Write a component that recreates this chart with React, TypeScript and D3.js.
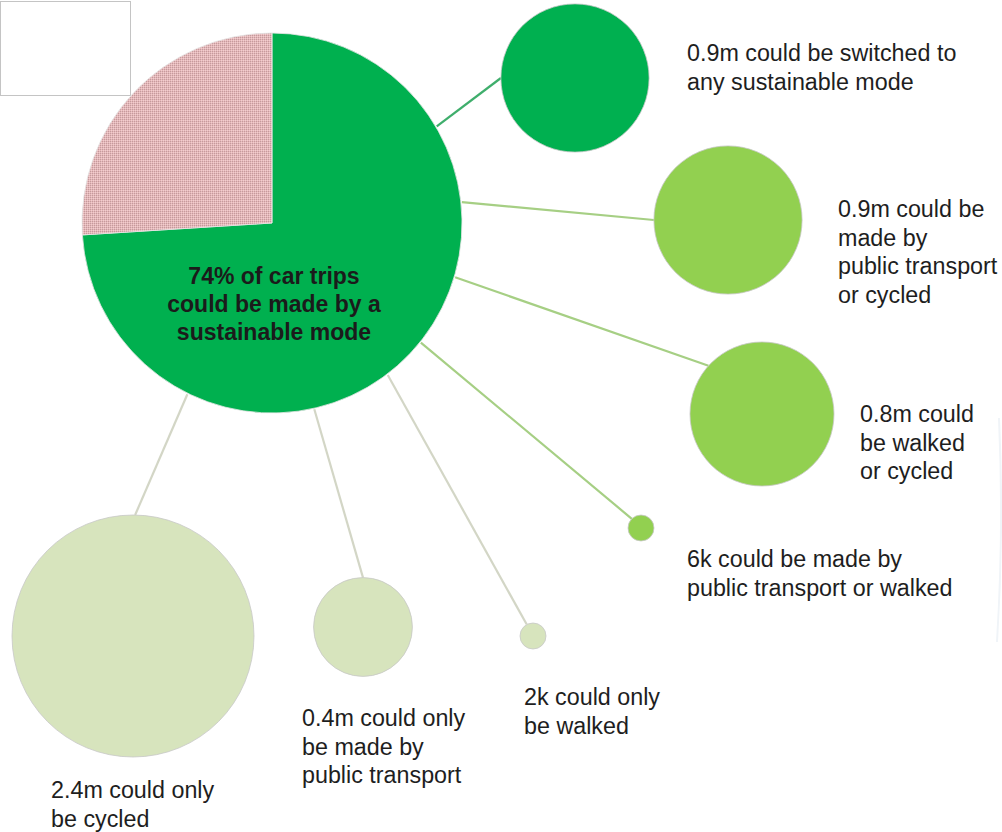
import React from "react";
import * as d3 from "d3";

// ---- data ----
const pieCategories = ["Could be made by a sustainable mode", "Could not"];
const pieValues = [74, 26];
const centerText = ["74% of car trips", "could be made by a", "sustainable mode"];

const bubbleKeys = ["any", "ptCycle", "walkCycle", "ptWalk", "walkOnly", "ptOnly", "cycleOnly"];
const bubbleValues = [0.9, 0.9, 0.85, 0.006, 0.002, 0.4, 2.4]; // millions of trips
const bubbleLabels = [
  ["0.9m could be switched to", "any sustainable mode"],
  ["0.9m could be", "made by", "public transport", "or cycled"],
  ["0.8m could", "be walked", "or cycled"],
  ["6k could be made by", "public transport or walked"],
  ["2k could only", "be walked"],
  ["0.4m could only", "be made by", "public transport"],
  ["2.4m could only", "be cycled"],
];
const bubbleTier = [0, 1, 1, 1, 2, 2, 2]; // number of alternative modes: any / two / one

// ---- layout & style ----
const W = 1002, H = 832;
const pieCenter = { x: 272, y: 223 };
const pieR = 190;
const bubbleCenters = [
  { x: 575, y: 78 },
  { x: 728, y: 220 },
  { x: 762, y: 414 },
  { x: 641, y: 528 },
  { x: 533, y: 636 },
  { x: 363, y: 627 },
  { x: 133, y: 636 },
];
const labelPos = [
  { x: 687, y: 61 },
  { x: 838, y: 217 },
  { x: 860, y: 422 },
  { x: 687, y: 567 },
  { x: 524, y: 705 },
  { x: 302, y: 726 },
  { x: 51, y: 798 },
];
const connectorPieAngle = [-30.4, -6.3, 16.5, 38.8, 52.7, 77.2, 116.3];
const connectorEndAngle = [180, 180, -138, -135, -118.6, -90, -89];
const tierFill = ["#00b050", "#92d050", "#d7e4bd"];
const tierLine = ["#3fae6c", "#a6cf84", "#d3d6c6"];
const pieColors = ["#00b04f", "url(#pinkHatch)"];
const lineH = 28.5;

export default function App() {
  const rScale = d3.scaleSqrt().domain([0, d3.max(bubbleValues) as number]).range([0, 121]);
  const radius = (v: number) => Math.max(13, rScale(v));

  const pie = d3.pie<number>().sort(null)(pieValues);
  const arc = d3.arc<d3.PieArcDatum<number>>().innerRadius(0).outerRadius(pieR);

  const rad = (deg: number) => (deg * Math.PI) / 180;

  return (
    <svg
      width={W}
      height={H}
      style={{ position: "absolute", left: 0, top: 0, background: "#fff" }}
      fontFamily="'Liberation Sans', Arial, sans-serif"
    >
      <defs>
        <pattern id="pinkHatch" width="2" height="2" patternUnits="userSpaceOnUse">
          <rect width="2" height="2" fill="#e6b6b8" />
          <rect x="0" y="0" width="1" height="1" fill="#c29c9e" />
          <rect x="1" y="1" width="1" height="1" fill="#f0cfd0" />
        </pattern>
      </defs>

      {/* empty box top-left */}
      <rect x={0.5} y={1.5} width={130} height={94} fill="#fff" stroke="#c4c4c4" strokeWidth={1} />

      {/* faint artifact on right edge */}
      <path d="M999,418 Q1004,530 997,642" fill="none" stroke="#f0f4f8" strokeWidth={2} />

      {/* connectors */}
      {bubbleKeys.map((k, i) => {
        const a0 = rad(connectorPieAngle[i]);
        const a1 = rad(connectorEndAngle[i]);
        const r = radius(bubbleValues[i]);
        const x1 = pieCenter.x + (pieR + 1) * Math.cos(a0);
        const y1 = pieCenter.y + (pieR + 1) * Math.sin(a0);
        const x2 = bubbleCenters[i].x + r * Math.cos(a1);
        const y2 = bubbleCenters[i].y + r * Math.sin(a1);
        return (
          <line key={"l" + k} x1={x1} y1={y1} x2={x2} y2={y2}
            stroke={tierLine[bubbleTier[i]]} strokeWidth={2.2} />
        );
      })}

      {/* pie */}
      <g transform={`translate(${pieCenter.x},${pieCenter.y})`}>
        {pie.map((d, i) => (
          <path key={pieCategories[i]} d={arc(d) as string} fill={pieColors[i]}
            stroke="#e4e4e4" strokeWidth={0.8} />
        ))}
      </g>
      <text x={274} y={284} textAnchor="middle" fontSize={23} fontWeight="bold" fill="#1b1b1b">
        {centerText.map((t, i) => (
          <tspan key={i} x={274} dy={i === 0 ? 0 : 28}>{t}</tspan>
        ))}
      </text>

      {/* bubbles */}
      {bubbleKeys.map((k, i) => (
        <circle key={"c" + k} cx={bubbleCenters[i].x} cy={bubbleCenters[i].y}
          r={radius(bubbleValues[i])} fill={tierFill[bubbleTier[i]]}
          stroke="#c8c8c8" strokeWidth={0.8} />
      ))}

      {/* labels */}
      {bubbleKeys.map((k, i) => (
        <text key={"t" + k} x={labelPos[i].x} y={labelPos[i].y} fontSize={23.3} fill="#1e1e1e">
          {bubbleLabels[i].map((t, j) => (
            <tspan key={j} x={labelPos[i].x} dy={j === 0 ? 0 : lineH}>{t}</tspan>
          ))}
        </text>
      ))}
    </svg>
  );
}
